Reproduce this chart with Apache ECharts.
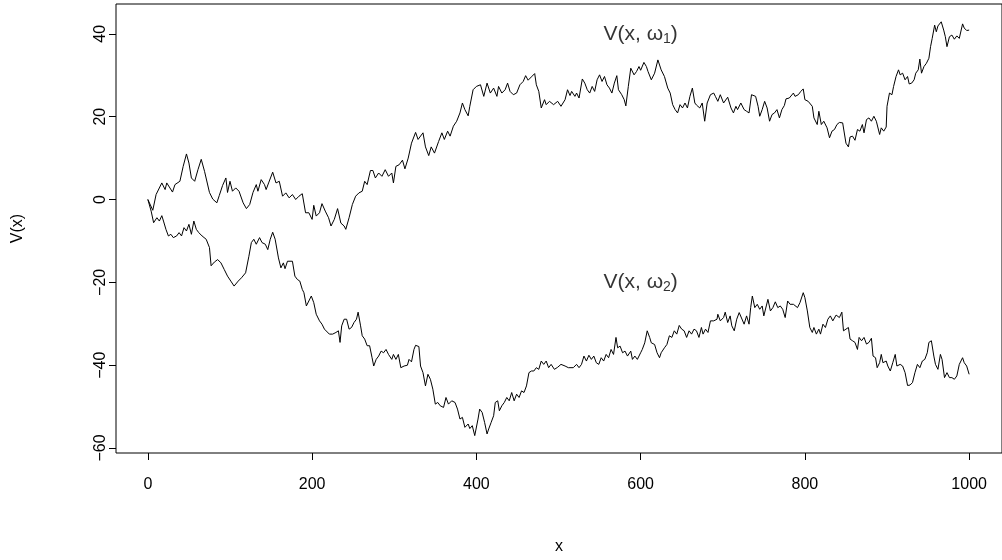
<!DOCTYPE html>
<html>
<head>
<meta charset="utf-8">
<script src="https://cdn.jsdelivr.net/npm/echarts@6/dist/echarts.min.js"></script>
<style>
html, body { margin: 0; padding: 0; background: #fff; }
#chart { width: 1002px; height: 560px; }
</style>
</head>
<body>
<div id="chart"></div>
<script>
// path of V(x, w1)
const xs1 = [0,6,10,17,21,23,30,33,39,43,47,50,53,57,61,65,69,75,79,84,87,91,95,97,100,103,107,111,116,120,124,128,132,134,138,142,144,147,152,156,160,164,168,172,176,180,184,188,192,196,200,202,205,209,212,216,220,223,227,231,235,239,241,245,249,253,257,261,264,267,271,274,277,281,285,289,293,297,299,302,306,310,313,317,321,326,329,335,338,342,345,349,354,358,361,365,368,372,376,380,383,386,390,392,396,400,405,409,413,417,421,425,427,431,435,438,441,445,449,453,457,460,463,467,471,473,476,479,483,485,489,494,499,503,508,511,514,516,520,522,525,529,532,535,538,541,544,547,550,553,556,559,562,565,568,571,573,577,580,582,585,588,592,595,598,600,604,607,609,613,617,621,625,629,633,636,639,642,645,648,651,654,657,660,663,666,668,672,675,678,681,685,689,691,694,697,701,703,706,710,713,716,718,722,726,729,732,735,737,740,743,745,748,751,754,757,760,763,766,769,772,775,777,781,786,788,792,795,798,800,804,809,811,815,817,820,823,827,830,833,836,839,842,846,848,850,853,855,858,861,864,867,870,872,875,878,881,884,887,889,891,893,896,899,900,903,906,908,911,914,916,919,922,925,927,930,933,935,938,940,942,945,948,951,953,955,958,960,962,966,969,971,973,976,979,982,985,988,992,994,997,1000];
const vals1 = [0,-2.6,1.2,4.0,2.4,4.0,1.8,3.6,4.4,8.0,11.0,8.8,5.2,4.4,7.2,9.7,6.8,1.7,0.1,-0.8,1.0,3.4,5.2,1.7,4.4,2.0,2.8,2.0,-0.8,-2.2,-1.2,1.7,3.6,2.0,4.8,3.6,2.4,4.0,6.6,4.0,4.4,0.8,1.6,0.4,1.2,0,0.8,1.4,-3.2,-3.2,-4.8,-1.4,-4.0,-3.2,-1.0,-2.8,-4.4,-6.4,-4.8,-2.2,-5.7,-6.4,-7.2,-4.4,-1.2,0.8,1.6,2.0,4.4,3.6,7.0,7.0,5.2,6.4,5.6,7.2,5.6,6.4,4.0,8.0,8.4,9.5,7.4,10.0,13.6,16.2,14.5,16.1,12.7,10.6,12.7,11.2,14.0,16.1,14.5,16.5,15.3,17.7,18.9,20.9,23.3,21.7,20.2,22.5,26.5,27.3,27.7,24.9,28.1,25.7,26.9,24.9,27.3,25.7,26.5,28.1,26.1,25.3,25.7,27.7,28.5,29.9,28.8,29.6,30.4,27.7,26.1,22.1,24.1,22.9,23.7,22.9,23.7,22.5,24.1,26.5,25.1,26.1,24.9,25.7,24.5,29.1,28.1,26.5,25.7,27.3,26.1,28.9,30.1,28.5,29.7,27.7,26.9,25.7,28.1,29.9,26.5,25.3,24.1,22.6,27.3,31.7,30.1,30.9,32.1,31.2,33.1,32.1,30.9,28.9,30.5,33.7,31.3,29.7,26.9,25.7,22.9,21.7,20.9,22.9,22.1,23.3,22.1,24.9,26.9,23.3,22.8,22.1,23.3,18.9,23.3,25.3,25.7,24.9,23.7,25.3,23.3,23.7,24.7,22.1,20.9,22.5,21.7,23.3,21.7,21.3,20.9,25.3,25.7,24.9,22.5,20.1,21.7,23.7,22.1,18.9,20.5,20.9,21.7,19.7,21.7,22.7,24.3,24.5,25.7,24.9,25.3,26.1,26.7,24.1,23.7,22.5,19.7,18.1,21.3,18.1,18.9,17.3,14.9,16.5,16.9,18.1,18.6,18.5,18.1,13.6,12.7,15.1,15.3,14.3,16.9,16.5,18.1,16.1,19.3,19.7,18.9,20.1,18.9,18.5,15.7,17.3,16.5,17.5,22.5,25.7,25.3,27.3,29.7,31.3,30.1,30.5,28.9,29.7,27.9,28.1,28.9,30.5,31.3,33.9,30.5,32.1,32.9,34.1,36.9,38.9,42.1,40.5,41.9,42.9,40.9,39.3,36.9,39.3,39.7,38.7,39.5,38.9,42.4,41.4,40.8,40.9];

// path of V(x, w2)
const xs2 = [0,4,7,11,14,17,19,22,25,28,31,35,38,41,44,47,50,53,56,59,62,66,71,75,77,81,85,89,93,97,101,105,110,114,119,123,126,129,132,136,139,143,146,149,152,155,159,162,165,167,170,176,179,182,185,188,190,193,196,199,202,205,209,212,215,217,221,225,229,232,234,236,239,242,245,248,251,254,256,259,261,264,267,270,273,275,278,281,284,287,290,293,297,299,302,305,308,312,316,318,321,324,326,330,332,335,338,341,344,347,350,353,356,360,363,366,370,374,377,380,383,386,390,392,395,398,402,404,407,410,413,415,418,421,423,426,428,431,434,437,440,443,446,449,452,455,458,461,464,467,470,473,476,479,482,485,488,491,495,499,503,508,512,518,522,525,528,531,534,537,540,543,546,549,552,555,558,561,564,567,570,572,575,578,581,584,588,590,593,596,600,602,605,608,611,613,617,620,623,625,629,632,635,638,641,644,647,650,653,656,659,662,665,668,671,674,676,679,682,685,689,693,694,697,701,703,706,709,711,714,717,720,722,726,729,732,734,736,739,742,745,748,750,753,755,758,761,764,767,770,773,776,779,782,786,788,791,794,798,800,803,806,809,811,814,817,819,822,825,828,831,834,838,842,845,847,850,853,855,858,861,864,866,869,872,875,878,881,883,886,888,891,893,895,899,901,904,907,910,912,916,919,922,925,928,931,934,937,940,943,946,949,951,954,957,959,962,965,967,970,973,976,979,982,985,988,992,994,997,1000];
const vals2 = [0,-2.8,-5.6,-4.4,-5.2,-3.9,-5.2,-7.2,-8.8,-8.4,-9.2,-8.8,-8.0,-8.8,-6.8,-7.6,-6.0,-8.4,-5.2,-7.2,-8.0,-8.8,-9.6,-11.6,-16.0,-15.1,-14.5,-15.3,-16.9,-18.5,-19.7,-20.9,-19.7,-18.9,-17.7,-13.7,-10.4,-9.6,-10.8,-9.2,-10.4,-10.8,-12.1,-9.6,-7.9,-9.6,-14.1,-16.5,-15.3,-16.7,-14.9,-14.9,-18.5,-19.3,-19.7,-21.7,-22.5,-25.7,-24.5,-23.3,-24.9,-27.7,-29.3,-30.1,-31.3,-30.9,-32.5,-32.5,-32.1,-31.7,-34.5,-30.5,-28.9,-28.9,-31.3,-30.9,-29.7,-28.9,-27.2,-30.5,-32.9,-33.7,-35.3,-35.3,-38.2,-40.2,-38.6,-37.8,-36.6,-37.0,-36.2,-37.4,-38.6,-37.4,-38.6,-37.4,-40.6,-40.2,-40.0,-38.6,-39.2,-36.2,-35.2,-35.5,-40.2,-41.8,-45.0,-42.2,-43.4,-45.8,-49.4,-49.0,-49.8,-50.2,-47.8,-49.4,-48.6,-49.0,-50.6,-53.0,-52.6,-55.0,-54.2,-55.3,-54.6,-57.0,-53.0,-50.6,-51.4,-53.8,-56.6,-55.4,-53.8,-52.2,-49.0,-48.6,-51.0,-49.8,-49.0,-47.8,-48.6,-46.6,-48.6,-47.0,-47.8,-46.2,-46.6,-45.0,-41.8,-41.4,-41.4,-40.6,-41.0,-39.0,-39.8,-39.0,-40.6,-39.8,-41.0,-40.5,-39.8,-40.2,-40.6,-40.6,-39.8,-40.6,-39.8,-37.8,-39.0,-37.6,-38.6,-37.8,-39.4,-39.8,-38.2,-39.0,-37.4,-38.2,-36.2,-37.4,-33.3,-35.8,-35.4,-37.0,-36.6,-37.8,-36.6,-38.6,-37.8,-38.6,-37.0,-36.2,-34.6,-31.7,-33.3,-34.6,-35.0,-37.0,-38.2,-37.0,-35.8,-35.0,-32.9,-33.3,-31.7,-32.5,-30.4,-31.3,-31.7,-33.3,-31.7,-32.5,-31.3,-31.7,-33.3,-30.9,-32.5,-31.3,-32.1,-29.3,-29.3,-28.9,-27.7,-29.3,-28.5,-27.2,-29.7,-28.1,-30.5,-31.7,-28.9,-27.3,-27.7,-30.1,-28.1,-30.1,-26.1,-23.3,-26.1,-25.3,-26.5,-25.7,-28.1,-25.7,-24.1,-26.9,-26.1,-24.7,-26.1,-25.7,-26.5,-28.5,-24.5,-25.3,-25.3,-25.3,-26.1,-24.9,-22.5,-23.7,-26.9,-30.9,-32.1,-30.9,-32.5,-31.3,-32.5,-30.1,-30.9,-28.9,-28.1,-29.3,-27.9,-28.5,-27.2,-31.7,-31.3,-30.9,-33.7,-34.1,-34.5,-36.2,-33.3,-34.1,-33.3,-34.9,-34.5,-33.5,-37.8,-38.2,-40.6,-39.4,-37.4,-39.4,-39.0,-40.2,-41.4,-39.4,-37.4,-40.2,-39.8,-40.2,-41.8,-44.9,-44.8,-44.2,-41.8,-39.8,-40.6,-39.0,-38.6,-37.0,-34.5,-34.1,-37.8,-39.8,-41.0,-37.4,-38.6,-43.0,-41.8,-43.0,-43.0,-43.4,-42.6,-39.8,-38.2,-39.4,-40.2,-42.2];

const xTicks = [0, 200, 400, 600, 800, 1000];
const yTicks = [-60, -40, -20, 0, 20, 40];

// text labels on the plot
const noteX = [600, 600];
const noteY = [40, -20];
const noteIdx = ['1', '2'];

const font = '"Liberation Sans", Arial, Helvetica, sans-serif';

function pairs(xs, ys) {
	return xs.map((x, i) => [x, ys[i]]);
}

let chart = echarts.init(document.getElementById('chart'), null, { renderer: 'canvas' });
let option = {
	backgroundColor: '#fff',
	animation: false,
	textStyle: { fontFamily: font, color: '#000' },
	grid: {
		left: 116, top: 4, width: 890, height: 450,
		show: true, borderColor: '#000', borderWidth: 1,
		backgroundColor: 'transparent'
	},
	xAxis: {
		type: 'value', min: -38.8, max: 1040,
		name: 'x', nameLocation: 'middle', nameGap: 86,
		nameTextStyle: { fontSize: 16, fontFamily: font, color: '#000' },
		axisLine: { show: false, onZero: false },
		splitLine: { show: false },
		axisTick: { show: true, length: 7, customValues: xTicks, lineStyle: { color: '#000', width: 1 } },
		axisLabel: {
			customValues: xTicks, fontSize: 16, margin: 24, color: '#000', fontFamily: font,
			formatter: (v) => String(v)
		}
	},
	yAxis: {
		type: 'value', min: -61.2, max: 47.2,
		name: 'V(x)', nameLocation: 'middle', nameGap: 90, nameRotate: 90,
		nameTextStyle: { fontSize: 16, fontFamily: font, color: '#000' },
		axisLine: { show: false, onZero: false },
		splitLine: { show: false },
		axisTick: { show: true, length: 7, customValues: yTicks, lineStyle: { color: '#000', width: 1 } },
		axisLabel: {
			customValues: yTicks, fontSize: 16, margin: 7, rotate: 90,
			color: '#000', fontFamily: font,
			formatter: (v) => String(v).replace('-', '\u2212')
		}
	},
	series: [
		{
			type: 'line', data: pairs(xs1, vals1), showSymbol: false, symbol: 'none',
			lineStyle: { color: '#000', width: 1 }, silent: true
		},
		{
			type: 'line', data: pairs(xs2, vals2), showSymbol: false, symbol: 'none',
			lineStyle: { color: '#000', width: 1 }, silent: true
		},
		{
			type: 'scatter', symbolSize: 0, silent: true,
			data: pairs(noteX, noteY),
			label: {
				show: true, position: 'inside', fontSize: 21, color: '#000', fontFamily: font,
				formatter: (p) => '{a|V(x, \u03c9}{s|' + noteIdx[p.dataIndex] + '}{a|)}',
				rich: {
					a: { fontSize: 21, fontFamily: font, color: '#000' },
					s: { fontSize: 14, fontFamily: font, color: '#000', padding: [10, 0, 0, 0] }
				}
			}
		}
	]
};
chart.setOption(option);
window.onresize = function() {
	chart.resize();
};
</script>
</body>
</html>
